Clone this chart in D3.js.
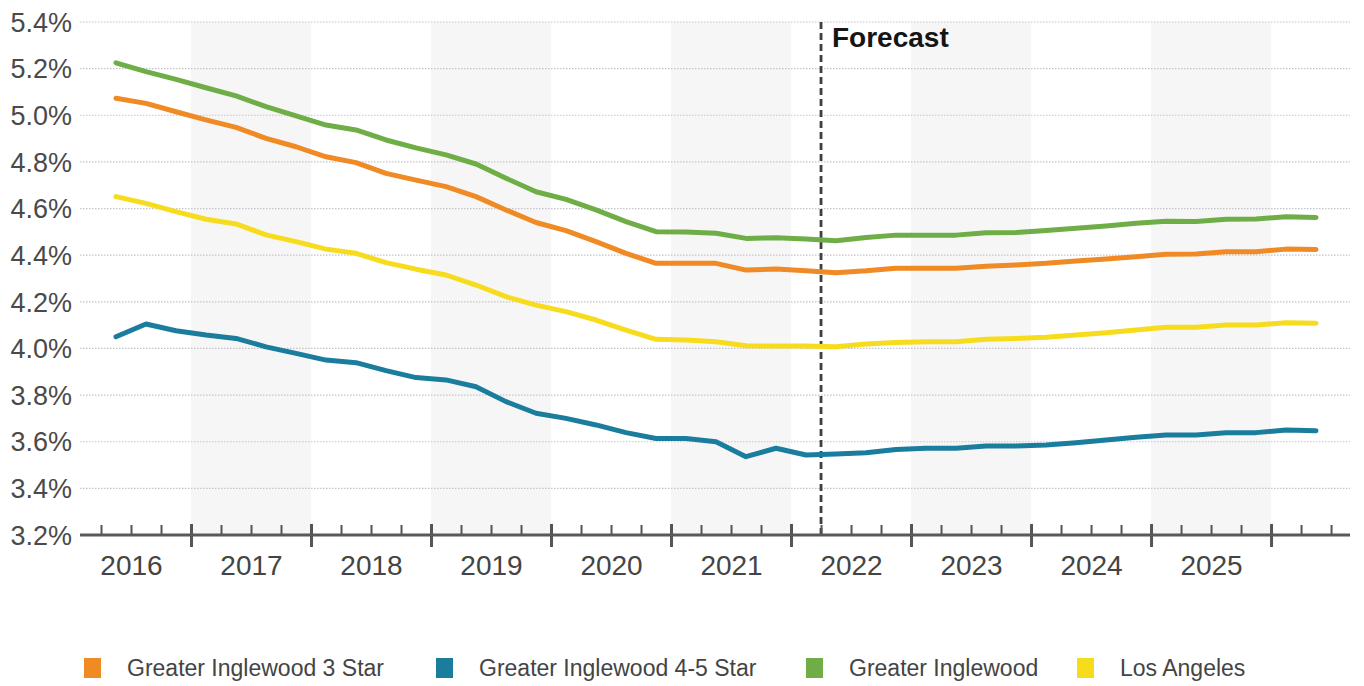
<!DOCTYPE html>
<html>
<head>
<meta charset="utf-8">
<script src="https://cdn.jsdelivr.net/npm/d3@7"></script>
<style>
  body { margin: 0; background: #fff; }
  svg { display: block; font-family: Arial, "Liberation Sans", sans-serif; }
</style>
</head>
<body>
<svg id="chart" width="1364" height="686"></svg>
<script>
// Quarterly periods, plotted at mid-quarter
const quarters = [
  "2016 Q2","2016 Q3","2016 Q4",
  "2017 Q1","2017 Q2","2017 Q3","2017 Q4",
  "2018 Q1","2018 Q2","2018 Q3","2018 Q4",
  "2019 Q1","2019 Q2","2019 Q3","2019 Q4",
  "2020 Q1","2020 Q2","2020 Q3","2020 Q4",
  "2021 Q1","2021 Q2","2021 Q3","2021 Q4",
  "2022 Q1","2022 Q2","2022 Q3","2022 Q4",
  "2023 Q1","2023 Q2","2023 Q3","2023 Q4",
  "2024 Q1","2024 Q2","2024 Q3","2024 Q4",
  "2025 Q1","2025 Q2","2025 Q3","2025 Q4",
  "2026 Q1","2026 Q2"
];

// Cap rates (%)
const inglewood3Star = [
  5.073,5.051,5.015,4.980,4.948,4.901,4.865,4.822,4.797,4.751,4.722,
  4.694,4.651,4.594,4.540,4.505,4.458,4.408,4.365,4.365,4.365,
  4.336,4.341,4.333,4.325,4.333,4.344,4.344,4.344,4.353,4.358,
  4.365,4.375,4.384,4.393,4.404,4.405,4.415,4.415,4.426,4.424
];
const inglewood45Star = [
  4.050,4.105,4.076,4.058,4.043,4.007,3.979,3.950,3.939,3.905,3.875,
  3.865,3.836,3.772,3.722,3.700,3.672,3.639,3.614,3.614,3.600,
  3.536,3.572,3.543,3.547,3.553,3.567,3.572,3.572,3.582,3.582,
  3.586,3.596,3.607,3.619,3.629,3.629,3.639,3.639,3.650,3.647
];
const inglewoodAll = [
  5.225,5.187,5.154,5.118,5.083,5.037,4.997,4.958,4.937,4.894,4.860,
  4.830,4.791,4.730,4.672,4.639,4.594,4.544,4.501,4.499,4.494,
  4.472,4.475,4.469,4.462,4.476,4.486,4.486,4.486,4.496,4.497,
  4.506,4.515,4.525,4.537,4.545,4.544,4.554,4.555,4.565,4.562
];
const losAngeles = [
  4.651,4.622,4.587,4.554,4.534,4.487,4.458,4.426,4.408,4.368,4.340,
  4.315,4.272,4.222,4.186,4.158,4.122,4.079,4.039,4.036,4.029,
  4.012,4.010,4.010,4.007,4.019,4.026,4.029,4.029,4.039,4.043,
  4.048,4.058,4.067,4.079,4.091,4.091,4.101,4.101,4.110,4.108
];

const seriesNames = ["Greater Inglewood 3 Star", "Greater Inglewood 4-5 Star", "Greater Inglewood", "Los Angeles"];
const seriesColors = ["#f08a24", "#1b7d9e", "#6fad46", "#f7dc1e"];
const seriesValues = [inglewood3Star, inglewood45Star, inglewoodAll, losAngeles];

const yTicks = [3.2, 3.4, 3.6, 3.8, 4.0, 4.2, 4.4, 4.6, 4.8, 5.0, 5.2, 5.4];
const yearLabels = [2016, 2017, 2018, 2019, 2020, 2021, 2022, 2023, 2024, 2025];
const shadedYears = [2017, 2019, 2021, 2023, 2025];
const forecastStart = "2022 Q2";
const forecastLabel = "Forecast";

// Layout
const plotLeft = 80, plotRight = 1350, plotTop = 22, plotBottom = 535;
const legendX = [84, 436, 806, 1077];

const svg = d3.select("#chart");

const toYear = q => {
  const [yr, qq] = q.split(" Q");
  return +yr + (+qq - 1) * 0.25;
};
const midQuarter = q => toYear(q) + 0.125;

const x = d3.scaleLinear().domain([2016.075, 2026.658]).range([plotLeft, plotRight]);
const y = d3.scaleLinear().domain([3.2, 5.4]).range([plotBottom, plotTop]);

// Alternating year bands
svg.append("g").selectAll("rect").data(shadedYears).join("rect")
  .attr("x", d => x(d)).attr("width", d => x(d + 1) - x(d))
  .attr("y", plotTop).attr("height", plotBottom - plotTop)
  .attr("fill", "#f6f6f7");

// Horizontal dotted gridlines
svg.append("g").selectAll("line").data(yTicks.slice(1)).join("line")
  .attr("x1", plotLeft).attr("x2", plotRight)
  .attr("y1", d => y(d)).attr("y2", d => y(d))
  .attr("stroke", "#c4c4cc").attr("stroke-width", 1.2)
  .attr("stroke-dasharray", "1.5,1.5");

// Y labels
svg.append("g").selectAll("text").data(yTicks).join("text")
  .attr("x", 72).attr("y", d => y(d))
  .attr("dy", "0.36em")
  .attr("text-anchor", "end")
  .attr("font-size", 27).attr("fill", "#4a4a4a")
  .text(d => d.toFixed(1) + "%");

// Forecast divider
const fx = x(toYear(forecastStart));
svg.append("line")
  .attr("x1", fx).attr("x2", fx)
  .attr("y1", plotTop).attr("y2", plotBottom)
  .attr("stroke", "#3f3f3f").attr("stroke-width", 2.8)
  .attr("stroke-dasharray", "7,4");
svg.append("text")
  .attr("x", fx + 11).attr("y", 47)
  .attr("font-size", 28).attr("font-weight", "bold").attr("fill", "#151515")
  .text(forecastLabel);

// Lines
const line = d3.line()
  .x((d, i) => x(midQuarter(quarters[i])))
  .y(d => y(d));

svg.append("g").selectAll("path").data(seriesValues).join("path")
  .attr("d", d => line(d))
  .attr("fill", "none")
  .attr("stroke", (d, i) => seriesColors[i])
  .attr("stroke-width", 5)
  .attr("stroke-linejoin", "round")
  .attr("stroke-linecap", "round");

// Bottom axis: quarter minor ticks upward, year ticks across the baseline
const minorTicks = d3.range(2016.25, 2026.6, 0.25).filter(v => Math.abs(v - Math.round(v)) > 0.01);
const majorTicks = d3.range(2017, 2027, 1);

svg.append("g")
  .attr("transform", `translate(0,${plotBottom})`)
  .call(d3.axisTop(x).tickValues(minorTicks).tickSize(10).tickFormat(""))
  .call(g => g.select(".domain").remove())
  .call(g => g.selectAll(".tick line").attr("stroke", "#555").attr("stroke-width", 2));

svg.append("g")
  .attr("transform", `translate(0,${plotBottom - 11})`)
  .call(d3.axisBottom(x).tickValues(majorTicks).tickSize(23).tickFormat(""))
  .call(g => g.select(".domain").remove())
  .call(g => g.selectAll(".tick line").attr("stroke", "#555").attr("stroke-width", 3));

svg.append("line")
  .attr("x1", plotLeft).attr("x2", plotRight)
  .attr("y1", plotBottom).attr("y2", plotBottom)
  .attr("stroke", "#595959").attr("stroke-width", 3);

svg.append("g")
  .attr("transform", `translate(0,${plotBottom})`)
  .call(d3.axisBottom(x).tickValues(yearLabels.map(d => d + 0.5)).tickSize(0).tickPadding(20)
        .tickFormat((d, i) => yearLabels[i]))
  .call(g => g.select(".domain").remove())
  .call(g => g.selectAll(".tick text")
        .attr("font-size", 28).attr("fill", "#444")
        .attr("font-family", "Arial, 'Liberation Sans', sans-serif"));

// Legend
const legend = svg.append("g").attr("transform", "translate(0,668)");
const items = legend.selectAll("g").data(seriesNames).join("g")
  .attr("transform", (d, i) => `translate(${legendX[i]},0)`);
items.append("rect").attr("x", 0).attr("y", -10).attr("width", 17).attr("height", 20)
  .attr("fill", (d, i) => seriesColors[i]);
items.append("text").attr("x", 43).attr("y", 0).attr("dy", "0.36em")
  .attr("font-size", 23).attr("fill", "#444").text(d => d);
</script>
</body>
</html>
